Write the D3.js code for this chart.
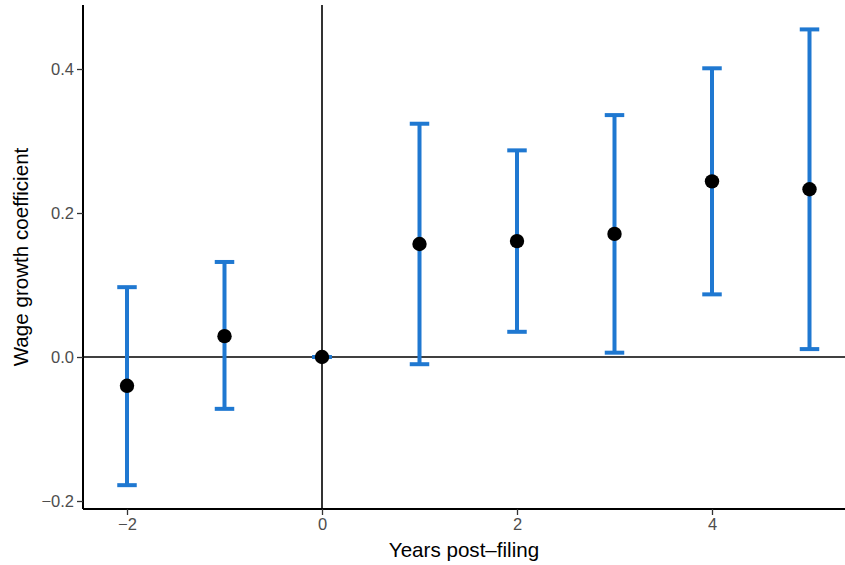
<!DOCTYPE html>
<html><head><meta charset="utf-8">
<script src="https://cdn.jsdelivr.net/npm/d3@7"></script>
<style>body{margin:0;background:#fff}svg{display:block;font-family:"Liberation Sans",Arial,sans-serif}</style>
</head><body><svg id="c" width="845" height="565"></svg>
<script>
const years = [-2, -1, 0, 1, 2, 3, 4, 5];
const estimates = [-0.040, 0.029, 0.000, 0.157, 0.161, 0.171, 0.244, 0.233];
const lower = [-0.178, -0.072, 0.000, -0.010, 0.035, 0.006, 0.087, 0.011];
const upper = [0.097, 0.132, 0.000, 0.324, 0.287, 0.336, 0.401, 0.455];
const xTicks = [-2, 0, 2, 4];
const yTicks = [-0.2, 0.0, 0.2, 0.4];

(function(){
const svg = d3.select("#c");
const pL = 83, pR = 845, pT = 5, pB = 509;
const x = d3.scaleLinear().domain([-2.4513, 5.3641]).range([pL, pR]);
const y = d3.scaleLinear().domain([-0.2111, 0.4889]).range([pB, pT]);

svg.append("line").attr("x1", pL).attr("x2", pR).attr("y1", y(0)).attr("y2", y(0))
  .attr("stroke", "#000").attr("stroke-width", 1.6);
svg.append("line").attr("x1", x(0)).attr("x2", x(0)).attr("y1", pT).attr("y2", pB)
  .attr("stroke", "#000").attr("stroke-width", 1.6);

const blue = "#1f78d1";
const capW = 0.2;
const data = years.map((yr, i) => ({yr, est: estimates[i], lo: lower[i], hi: upper[i]}));
const g = svg.append("g");
data.forEach(d => {
  g.append("line").attr("x1", x(d.yr)).attr("x2", x(d.yr)).attr("y1", y(d.lo)).attr("y2", y(d.hi))
    .attr("stroke", blue).attr("stroke-width", 4);
  [d.lo, d.hi].forEach(v => {
    g.append("line").attr("x1", x(d.yr - capW/2)).attr("x2", x(d.yr + capW/2)).attr("y1", y(v)).attr("y2", y(v))
      .attr("stroke", blue).attr("stroke-width", 4);
  });
});
g.selectAll("circle").data(data).enter().append("circle")
  .attr("cx", d => x(d.yr)).attr("cy", d => y(d.est)).attr("r", 7.2).attr("fill", "#000");

const xAxis = svg.append("g").attr("transform", `translate(0,${pB})`)
  .call(d3.axisBottom(x).tickValues(xTicks).tickSize(6).tickPadding(3).tickFormat(d => d < 0 ? "\u2212" + Math.abs(d) : d));
const yAxis = svg.append("g").attr("transform", `translate(${pL},0)`)
  .call(d3.axisLeft(y).tickValues(yTicks).tickSize(6).tickPadding(3).tickFormat(d => {const s = Math.abs(d).toFixed(1); return d < 0 ? "\u2212" + s : s;}));
[xAxis, yAxis].forEach(a => {
  a.attr("font-size", null).attr("font-family", null);
  a.select(".domain").attr("stroke", "#000").attr("stroke-width", 2);
  a.selectAll(".tick line").attr("stroke", "#333").attr("stroke-width", 1.3);
  a.selectAll(".tick text").attr("fill", "#4d4d4d").style("font-size", "16.5px");
});
yAxis.select(".domain").attr("d", `M0,${pT}V${pB}`);
xAxis.select(".domain").attr("d", `M${pL},0H${pR}`);

svg.append("text").attr("x", (pL + pR) / 2).attr("y", 557).attr("text-anchor", "middle")
  .style("font-size", "20.6px").attr("fill", "#000").text("Years post\u2013filing");
svg.append("text").attr("transform", `translate(28,${(pT + pB) / 2}) rotate(-90)`).attr("text-anchor", "middle")
  .style("font-size", "20.6px").attr("fill", "#000").text("Wage growth coefficient");
})();
</script></body></html>
